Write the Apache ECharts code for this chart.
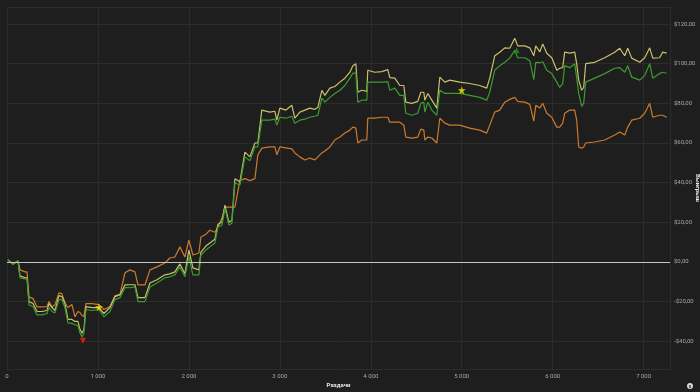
<!DOCTYPE html>
<html>
<head>
<meta charset="utf-8">
<script src="https://cdn.jsdelivr.net/npm/echarts@6/dist/echarts.min.js"></script>
<style>
html,body{margin:0;padding:0;background:#1e1e1e;}
#c{width:700px;height:392px;}
</style>
</head>
<body>
<div id="c"></div>
<script>
// Hands (x values)
const hands = [11,66,121,143,198,220,242,286,330,385,440,462,495,528,571,604,637,670,714,747,780,802,824,846,868,934,1011,1066,1132,1187,1242,1297,1352,1407,1440,1517,1572,1649,1736,1791,1846,1901,1956,2000,2044,2110,2132,2187,2231,2286,2319,2363,2396,2440,2473,2506,2561,2616,2671,2726,2758,2802,2890,2945,2967,3000,3066,3132,3165,3220,3275,3330,3385,3418,3462,3495,3550,3605,3660,3715,3770,3803,3836,3857,3901,3956,3967,4044,4121,4187,4209,4264,4319,4363,4385,4451,4517,4550,4583,4594,4627,4671,4726,4759,4814,4869,4978,5088,5198,5275,5308,5363,5418,5473,5528,5583,5616,5693,5748,5792,5814,5858,5891,5935,5990,6045,6077,6110,6132,6187,6242,6264,6286,6319,6341,6363,6462,6572,6682,6737,6792,6825,6869,6957,7012,7067,7100,7176,7209,7253];
// Yellow line values ($)
const yellowVals = [1,-1,0.5,-7,-8,-8,-20,-21,-25,-25,-24.5,-21,-23,-24.5,-17,-17.5,-21,-29,-29,-30,-30,-34,-36,-34,-22.5,-23,-23,-26,-23,-17.5,-16.5,-11.6,-11.5,-11.5,-18,-18,-10.6,-9,-6.5,-6,-5,-1,-6,6,-3,-4,5,8,9.6,11.5,19,20,28.7,20,21,42,40.5,55.4,53,60,60,76.6,75.6,76,71.5,77.6,76.6,79,72.5,75.6,76.6,77.6,77,78,86.6,84,87.7,88.5,90.7,92.7,95.7,99,100,85.6,86.6,86,96.7,95.7,96,97,93,92.7,89,89,80.6,80,81,85.6,85.6,81.6,85,81.6,77.6,93.2,90.7,91.7,90.7,90,89,87.7,92.7,104,105.8,108,107.8,112.8,109,109,108,104,109,106,110,105.3,103,96.7,97.7,98,105.8,105.3,105.8,100,91.7,86.6,88,100,100.7,103,105.8,107.8,104,107.8,102.8,100.7,103,108,102.8,103,105.8,105.3];
// Green line values ($)
const greenVals = [1,-1,0.5,-8,-8.5,-8.5,-21.7,-22.5,-26.7,-26.7,-26,-23,-25,-25.7,-19,-19,-23,-30.7,-31,-31.7,-32,-35.8,-37.8,-36,-24,-24.5,-24,-27.7,-25,-19,-18,-13,-13,-12.6,-20,-20,-12.6,-10.6,-8,-7.5,-6.5,-2.5,-7.5,2.5,-6.5,-6.5,3.5,6,7.6,9.6,17.6,18.5,27,18.6,19.5,39.8,38.8,53,51,58,58,71.5,71.5,72,69,73,72.5,73.5,70,71.5,72,73,73.5,74,82.6,80.6,83,85,86.6,89,92.7,95.2,95.2,80.6,81.6,81.6,90.7,90.7,90.7,91,86.6,87.7,84,84,75,74,75,80,80.6,75.6,80.6,76.6,74,86.6,85,85,85,84,83,81.6,85.6,96.7,99,100.7,102.8,106.8,103,103,101.5,92,100.7,100.5,101,96.7,95,90.7,88,90,99,98,100,92.7,85,78.5,80,90.7,92.7,95,97.7,98,95.7,99,93.2,91.7,94,100,92.7,95,95.7,95.2];
// Orange line values ($)
const orangeVals = [1,-1,0.5,-4,-5,-5,-17.6,-18.5,-22.7,-22.7,-22.5,-20,-22.7,-21.5,-15.6,-16,-20.6,-23,-21.5,-27.7,-25,-25.5,-27,-27.5,-21,-21,-21.5,-24,-22.5,-17,-16.5,-5.5,-4,-5,-11.6,-11.6,-4,-2.5,-0.5,2,2.5,7.6,2.5,11,3.5,4.5,12.6,14,16,15,17.6,22,27.7,27.7,27.7,27.7,41,42,41,42,54,57.4,58,58,54,58,57.5,57,55,53,51.4,52.4,51.5,53,55,56,58,61.5,63,65,66.5,68,67.5,60,61.5,61.5,72.5,72.5,73,73,70.5,70.5,70.5,69,63,62.5,63,67,66.5,61.5,63,62.5,60,72.5,70,69,69,67.5,66.5,65,69,75.6,76.6,80.6,82,83,81,80.6,79.5,71,79,77.6,80,75,73,68,68,70,75,76.6,76.6,71.5,58,57.4,58,60,60.5,61.5,64,65.5,64,68,71.5,72.5,75,80,73,74,74,73];
// Markers
const minMarker = [[835,-39.8]];
const starMarkers = [[1011,-22.8],[5000,86.6]];
const maxMarker = [[5605,106.8]];

const pair = v => hands.map((h,i)=>[h,v[i]]);
const star = 'path://M50,0 L61,35 L98,35 L68,57 L79,91 L50,70 L21,91 L32,57 L2,35 L39,35 Z';
const fmtY = v => (v<0?'-':'') + '$' + Math.abs(v).toFixed(2).replace('.',',');
const fmtX = v => v>=1000 ? Math.floor(v/1000)+' '+String(v%1000).padStart(3,'0') : String(v);

const chart = echarts.init(document.getElementById('c'));
chart.setOption({
  backgroundColor:'#1e1e1e',
  animation:false,
  grid:{left:7,right:30,top:7,bottom:23,outerBoundsMode:'none',containLabel:false},
  xAxis:{type:'value',min:0,max:7290,interval:1000,
    name:'Раздачи',nameLocation:'middle',nameGap:13,nameMoveOverlap:false,
    nameTextStyle:{color:'#e8e8e8',fontSize:6,fontWeight:'bold',fontFamily:'Roboto'},
    axisLine:{show:false},axisTick:{show:false},
    axisLabel:{color:'#a8a8a8',fontSize:6,margin:4,showMaxLabel:false,fontFamily:'Roboto',formatter:fmtX},
    splitLine:{show:true,lineStyle:{color:'#2c2c2c',width:1}}},
  yAxis:{type:'value',position:'right',min:-54,max:128.6,splitNumber:9,minInterval:20,maxInterval:20,
    name:'Выигрыш',nameLocation:'middle',nameGap:24,nameRotate:-90,nameMoveOverlap:false,
    nameTextStyle:{color:'#e8e8e8',fontSize:6,fontWeight:'bold',fontFamily:'Roboto'},
    axisLine:{show:false},axisTick:{show:false},
    axisLabel:{color:'#a8a8a8',fontSize:6,margin:4,showMinLabel:false,showMaxLabel:false,fontFamily:'Roboto',formatter:fmtY},
    splitLine:{show:true,lineStyle:{color:'#2c2c2c',width:1}}},
  series:[
    {type:'line',data:pair(orangeVals),showSymbol:false,lineStyle:{color:'#cc7a2e',width:1.2},z:2,
      markLine:{silent:true,symbol:'none',label:{show:false},data:[{yAxis:0}],lineStyle:{color:'#c4c4c4',width:1.2,type:'solid'}}},
    {type:'line',data:pair(yellowVals),showSymbol:false,lineStyle:{color:'#c9c06c',width:1.2},z:3},
    {type:'line',data:pair(greenVals),showSymbol:false,lineStyle:{color:'#3b9b2f',width:1.2},z:4},
    {type:'scatter',data:minMarker,symbol:'triangle',symbolRotate:180,symbolSize:6,itemStyle:{color:'#ff1a1a'},z:6},
    {type:'scatter',data:starMarkers,symbol:star,symbolSize:8,itemStyle:{color:'#ffee00'},z:6},
    {type:'scatter',data:maxMarker,symbol:'triangle',symbolSize:6,itemStyle:{color:'#2a8a1e'},z:6}
  ],
  graphic:[
    {type:'circle',shape:{cx:690,cy:386,r:3},style:{fill:'#d8d8d8'}},
    {type:'rect',shape:{x:689.4,y:385,width:1.2,height:3},style:{fill:'#1e1e1e'}}
  ]
});
</script>
</body>
</html>
